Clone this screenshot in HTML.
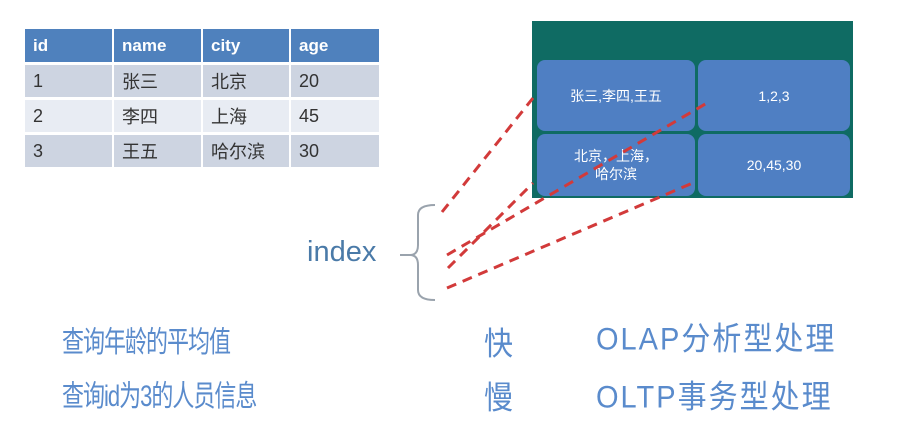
<!DOCTYPE html>
<html><head><meta charset="utf-8"><style>
body{margin:0;width:916px;height:435px;background:#fff;position:relative;overflow:hidden;font-family:"Liberation Sans","Noto Sans CJK SC",sans-serif}
.a{position:absolute}
table{position:absolute;left:25px;top:29px;border-collapse:separate;border-spacing:2px 3px;margin:-3px -2px}
td{height:32px;padding:0 0 0 8px;font-size:18px;color:#333;vertical-align:middle}
tr.h td{background:#4f81bd;color:#fff;font-weight:bold;height:33px;font-size:17px}
tr.r1 td{background:#cdd4e1}tr.r2 td{background:#e8ecf3}tr.r3 td{background:#cdd4e1}
.cell{position:absolute;background:#4f7fc3;border-radius:8px;color:#fff;font-size:14px;text-align:center;display:flex;align-items:center;justify-content:center;line-height:18px}
.t{position:absolute;color:#5a8bcc;font-size:22px;white-space:nowrap;transform-origin:0 0;transform:scaleY(1.35)}
</style></head><body>
<table>
<tr class="h"><td style="width:79px">id</td><td style="width:79px">name</td><td style="width:78px">city</td><td style="width:80px">age</td></tr>
<tr class="r1"><td>1</td><td>张三</td><td>北京</td><td>20</td></tr>
<tr class="r2"><td>2</td><td>李四</td><td>上海</td><td>45</td></tr>
<tr class="r3"><td>3</td><td>王五</td><td>哈尔滨</td><td>30</td></tr>
</table>
<div class="a" style="left:532px;top:21px;width:321px;height:177px;background:#0f6b63"></div>
<div class="cell" style="left:537px;top:60px;width:158px;height:71px">张三,李四,王五</div>
<div class="cell" style="left:698px;top:60px;width:152px;height:71px">1,2,3</div>
<div class="cell" style="left:537px;top:134px;width:158px;height:62px">北京，上海，<br>哈尔滨</div>
<div class="cell" style="left:698px;top:134px;width:152px;height:62px">20,45,30</div>
<svg class="a" style="left:0;top:0" width="916" height="435">
<path d="M435,205 Q418,205 418,215 L418,245 Q418,255 410,255 Q418,255 418,265 L418,290 Q418,300 435,300" fill="none" stroke="#9aa3ad" stroke-width="2"/>
<line x1="400" y1="255" x2="410" y2="255" stroke="#9aa3ad" stroke-width="2"/>
<g stroke="#d23a3a" stroke-width="3" stroke-dasharray="10,7">
<line x1="442" y1="212" x2="533" y2="98"/>
<line x1="447" y1="255" x2="707" y2="103"/>
<line x1="448" y1="268" x2="533" y2="183"/>
<line x1="447" y1="288" x2="695" y2="182"/>
</g>
</svg>
<div class="a" style="left:307px;top:236px;font-size:29px;color:#4a7aa8">index</div>
<div class="t" style="left:62px;top:318px;letter-spacing:-1px">查询年龄的平均值</div>
<div class="t" style="left:62px;top:372px;letter-spacing:-1px">查询id为3的人员信息</div>
<div class="t" style="left:484px;top:318px;font-size:29px;transform:scaleY(1.1)">快</div>
<div class="t" style="left:484px;top:372px;font-size:29px;transform:scaleY(1.1)">慢</div>
<div class="t" style="left:596px;top:313px;font-size:29px;letter-spacing:2px;transform:scaleY(1.1)">OLAP分析型处理</div>
<div class="t" style="left:596px;top:371px;font-size:29px;letter-spacing:2px;transform:scaleY(1.1)">OLTP事务型处理</div>
</body></html>
